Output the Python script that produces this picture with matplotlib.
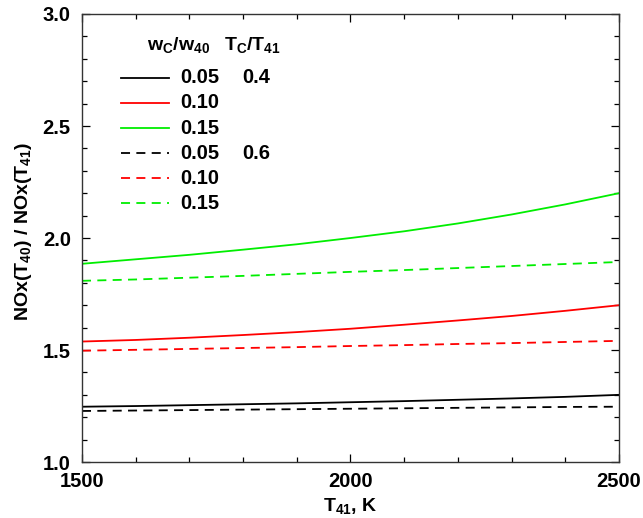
import matplotlib
matplotlib.use("Agg")
import matplotlib.pyplot as plt
from matplotlib.lines import Line2D
from matplotlib.ticker import MultipleLocator, FormatStrFormatter

plt.rcParams['font.family'] = ['Liberation Sans', 'DejaVu Sans']
plt.rcParams['font.weight'] = 'bold'
plt.rcParams['mathtext.fontset'] = 'custom'
plt.rcParams['mathtext.rm'] = 'Liberation Sans:bold'
plt.rcParams['mathtext.it'] = 'Liberation Sans:bold'
plt.rcParams['mathtext.bf'] = 'Liberation Sans:bold'
plt.rcParams['mathtext.default'] = 'bf'

# Temperature T41, K
t41 = [1500, 1600, 1700, 1800, 1900, 2000, 2100, 2200, 2300, 2400, 2500]

# NOx ratio, Tc/T41 = 0.4
ratio_w005_t04 = [1.247, 1.250, 1.254, 1.258, 1.262, 1.267, 1.272, 1.278, 1.284, 1.291, 1.300]
ratio_w010_t04 = [1.538, 1.545, 1.555, 1.567, 1.580, 1.595, 1.613, 1.632, 1.652, 1.675, 1.700]
ratio_w015_t04 = [1.885, 1.905, 1.925, 1.948, 1.972, 2.000, 2.030, 2.065, 2.105, 2.150, 2.200]

# NOx ratio, Tc/T41 = 0.6
ratio_w005_t06 = [1.228, 1.230, 1.232, 1.234, 1.236, 1.238, 1.240, 1.242, 1.244, 1.246, 1.247]
ratio_w010_t06 = [1.497, 1.501, 1.505, 1.509, 1.513, 1.518, 1.522, 1.527, 1.531, 1.536, 1.541]
ratio_w015_t06 = [1.809, 1.815, 1.823, 1.831, 1.840, 1.849, 1.857, 1.866, 1.875, 1.884, 1.893]

series = [
    (ratio_w005_t04, 'black', '-', '0.05', '0.4'),
    (ratio_w010_t04, 'red', '-', '0.10', ''),
    (ratio_w015_t04, '#00ee00', '-', '0.15', ''),
    (ratio_w005_t06, 'black', '--', '0.05', '0.6'),
    (ratio_w010_t06, 'red', '--', '0.10', ''),
    (ratio_w015_t06, '#00ee00', '--', '0.15', ''),
]

fig = plt.figure(figsize=(6.43, 5.18), dpi=100)
ax = fig.add_axes([0.1275, 0.108, 0.835, 0.865])

for vals, col, ls, _, _ in series:
    line, = ax.plot(t41, vals, color=col, linestyle=ls, lw=1.3)
    if ls == '--':
        line.set_dashes((5, 3.5))

ax.set_xlim(1500, 2500)
ax.set_ylim(1.0, 3.0)
ax.xaxis.set_major_locator(MultipleLocator(500))
ax.xaxis.set_minor_locator(MultipleLocator(100))
ax.yaxis.set_major_locator(MultipleLocator(0.5))
ax.yaxis.set_minor_locator(MultipleLocator(0.1))
ax.yaxis.set_major_formatter(FormatStrFormatter('%.1f'))
ax.tick_params(which='both', direction='in', top=True, right=True, labelsize=14.5, width=0.9)
ax.tick_params(which='major', length=6)
ax.tick_params(which='minor', length=3.5)
ax.tick_params(axis='x', which='major', pad=7)
ax.tick_params(axis='y', which='major', pad=8)
for lab in ax.get_xticklabels() + ax.get_yticklabels():
    lab.set_fontweight('bold')
for sp in ax.spines.values():
    sp.set_linewidth(1.0)
    sp.set_color('#333333')

ax.set_xlabel(r'T$_{41}$, K', fontsize=14, fontweight='bold', labelpad=4)
ax.set_ylabel(r'NOx(T$_{40}$) / NOx(T$_{41}$)', fontsize=14, fontweight='bold')
ax.yaxis.set_label_coords(-0.09, 0.515)

# Legend table drawn in axes coordinates
tr = ax.transAxes
def xa(px):
    return (px - 82) / 537.0
def ya(py):
    return (462 - py) / 448.0

ax.text(xa(147), ya(45), r'w$_C$/w$_{40}$', transform=tr, fontsize=14, fontweight='bold', va='center', ha='left')
ax.text(xa(224), ya(45), r'T$_C$/T$_{41}$', transform=tr, fontsize=14, fontweight='bold', va='center', ha='left')
rows_y = [78, 103, 128, 153, 178, 203]
for (vals, col, ls, wlab, tlab), py in zip(series, rows_y):
    ln = Line2D([xa(121), xa(169)], [ya(py), ya(py)], transform=tr, color=col, lw=1.3,
                linestyle=ls)
    if ls == '--':
        ln.set_dashes((5, 3.5))
    ax.add_line(ln)
    ax.text(xa(180), ya(py), wlab, transform=tr, fontsize=14.5, fontweight='bold', va='center', ha='left')
    if tlab:
        ax.text(xa(242), ya(py), tlab, transform=tr, fontsize=14.5, fontweight='bold', va='center', ha='left')

fig.savefig('out.png', dpi=100)
